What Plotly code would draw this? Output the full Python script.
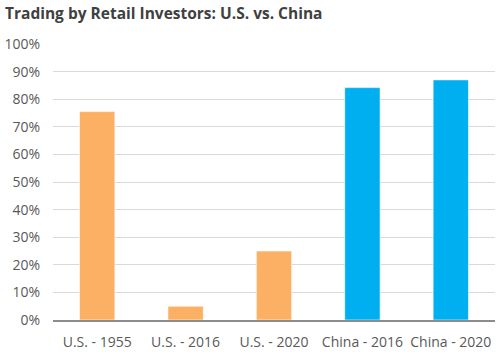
import plotly.graph_objects as go

categories = ["U.S. - 1955", "U.S. - 2016", "U.S. - 2020", "China - 2016", "China - 2020"]
values = [0.755, 0.05, 0.25, 0.842, 0.87]
colors = ["#FCB063", "#FCB063", "#FCB063", "#00AFEF", "#00AFEF"]
y_ticks = [i / 10 for i in range(11)]
y_labels = [f"{i*10}%" for i in range(11)]

fig = go.Figure(go.Bar(
    x=categories, y=values,
    marker=dict(color=colors, line=dict(color="rgba(255,255,255,0.6)", width=1)),
    hoverinfo="skip",
))

fig.update_layout(
    width=500, height=352,
    margin=dict(l=53, r=5, t=44, b=32),
    paper_bgcolor="white", plot_bgcolor="white",
    bargap=0.6,
    showlegend=False,
    font=dict(family="Open Sans", color="#595959", size=12),
    title=dict(
        text="<b>Trading by Retail Investors: U.S. vs. China</b>",
        x=0.01, xanchor="left", y=0.962, yanchor="middle",
        font=dict(family="Open Sans", size=15.5, color="#404040"),
    ),
    yaxis=dict(
        range=[0, 1], tickvals=y_ticks, ticktext=y_labels,
        showgrid=True, gridcolor="#D9D9D9", gridwidth=1,
        zeroline=False, showline=False, ticks="", ticklen=0,
        ticklabelstandoff=12, automargin=False,
        tickfont=dict(size=14, color="#595959"),
    ),
    xaxis=dict(
        showline=True, linecolor="#8C8C8C", linewidth=1.5,
        ticks="", ticklabelstandoff=8, automargin=False,
        tickfont=dict(size=14, color="#595959"),
    ),
)

fig.write_html("out.html")
